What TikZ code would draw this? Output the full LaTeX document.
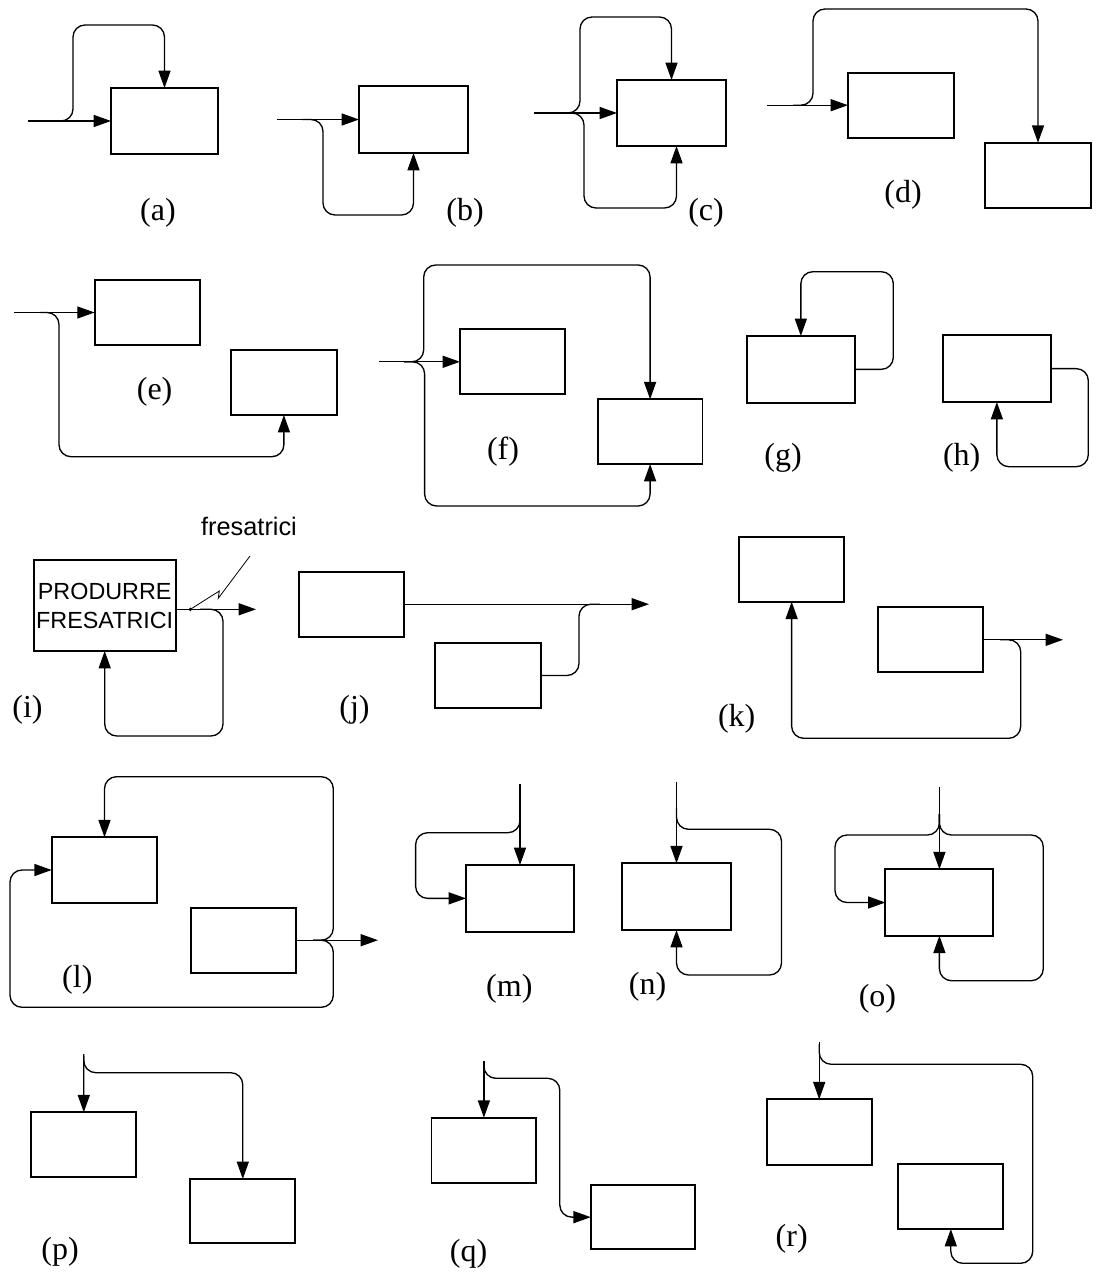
\documentclass[tikz,border=0pt]{standalone}
\usepackage{fontspec}
\setmainfont{Liberation Serif}
\newfontfamily\sansf{Liberation Sans}
\usetikzlibrary{arrows.meta,calc}
\newcommand{\mybox}[5]{\node[bx, anchor=north west, minimum width={(#4-#2)*0.75pt}, minimum height={(#5-#3)*0.75pt}] (#1) at (#2,#3) {};}
\tikzset{
  bx/.style={draw, line width=1.4pt, inner sep=0pt, outer sep=0pt},
  conn/.style={line width=1pt},
  arr/.style={conn, -{Triangle[length=13pt,width=9pt]}},
  rc/.style={rounded corners=9pt},
  lbl/.style={font=\fontsize{24pt}{28pt}\selectfont, inner sep=0pt}
}
\begin{document}
\begin{tikzpicture}[x=0.75pt,y=-0.75pt]
\useasboundingbox (0,0) rectangle (1096,1276);
\fill[white] (0,0) rectangle (1096,1276);

% (a)
\mybox{A}{111}{88}{218}{154}
\coordinate (Ain) at (28,121);
\draw[arr] (Ain) -- (A.west);
\draw[arr,rc] (52,121) -| (73,25) -| (A.north);
\node[lbl] (la) at (158,213) {(a)};

% (b)
\mybox{B}{359}{86}{468}{153}
\coordinate (Bin) at (277,119.5);
\draw[arr] (Bin) -- (B.west);
\draw[arr,rc] (302,119.5) -| (323,215) -| (B.south);
\node[lbl] (lb) at (465,213) {(b)};

% (c)
\mybox{C}{617}{80}{726}{146}
\coordinate (Cin) at (534,113);
\draw[arr] (Cin) -- (C.west);
\draw[arr,rc] (560,113) -| (580,17) -| (C.north);
\draw[arr,rc] (560,113) -| (584,208) -| ($(C.south)+(5,0)$);
\node[lbl] (lc) at (706,213) {(c)};

% (d)
\mybox{D1}{848}{72.7}{954}{137.7}
\mybox{D2}{985}{142.7}{1091}{208.3}
\coordinate (Din) at (767,105.2);
\draw[arr] (Din) -- (D1.west);
\draw[arr,rc] (793,105.2) -| (813,9) -| (D2.north);
\node[lbl] (ld) at (903,195) {(d)};

% (e)
\mybox{E1}{94.6}{280}{199.8}{345}
\mybox{E2}{230.8}{350}{337}{415}
\coordinate (Ein) at (14,312.5);
\draw[arr] (Ein) -- (E1.west);
\draw[arr,rc] (40,312.5) -| (59,456.7) -| (E2.south);
\node[lbl] (le) at (154.6,391.7) {(e)};

% (f)
\mybox{F1}{460}{329.3}{565.4}{394.3}
\mybox{F2}{597.7}{399.3}{702.5}{464}
\coordinate (Fin) at (379,361.8);
\draw[arr] (Fin) -- (F1.west);
\draw[arr,rc] (404,361.8) -| (423.7,265) -| (F2.north);
\draw[arr,rc] (404,361.8) -| (424.6,506) -| (F2.south);
\node[lbl] (lf) at (503,451.7) {(f)};

% (g)
\mybox{G}{746.7}{336}{855}{402.7}
\draw[arr,rc] (G.east) -| (893.3,271.7) -| (G.north);
\node[lbl] (lg) at (783,458) {(g)};

% (h)
\mybox{H}{942.7}{335.3}{1051}{402}
\draw[arr,rc] (H.east) -| (1088.3,466.7) -| (H.south);
\node[lbl] (lh) at (961.7,458) {(h)};

% (i)
\node[bx, anchor=north west, minimum width={141.8*0.75pt}, minimum height={91*0.75pt}, align=center,
      font=\sansf\fontsize{17.5pt}{21.75pt}\selectfont] (I) at (33.8,560) {PRODURRE\\FRESATRICI};
\coordinate (Idot) at (190.4,609.3);
\coordinate (Iend) at (256,609.3);
\draw[arr] (I.east |- Idot) -- (Iend);
\fill (Idot) circle (1.4pt);
\draw[arr,rc] (200,609.3) -| (223,736) -| (I.south);
\node[font=\sansf\fontsize{19pt}{22pt}\selectfont, inner sep=0pt] (fres) at (249,526) {fresatrici};
\draw[line width=0.6pt] (Idot) -- (219.3,591) -- (218.3,598.3) -- (250,556);
\node[lbl] (li) at (27.5,710) {(i)};

% (j)
\mybox{J1}{299}{571.7}{404}{636.7}
\mybox{J2}{435}{642.7}{540.7}{708.3}
\coordinate (Jend) at (649,604.2);
\draw[arr] (J1.east) -- (Jend);
\draw[conn,rc] (J2.east) -| (579,604.2) -- (600,604.2);
\node[lbl] (lj) at (354.5,710) {(j)};

% (k)
\mybox{K1}{739.3}{536.7}{844}{601.7}
\mybox{K2}{878.3}{607.3}{983.3}{672.3}
\coordinate (Kend) at (1063,639.8);
\draw[arr] (K2.east) -- (Kend);
\draw[arr,rc] (1000,639.8) -| (1020.7,738.3) -| (K1.south);
\node[lbl] (lk) at (736.7,718.3) {(k)};

% (l)
\mybox{L1}{51.7}{837.3}{157.3}{902.7}
\mybox{L2}{191}{907.7}{296}{972.7}
\coordinate (Lend) at (378,940.2);
\draw[arr] (L2.east) -- (Lend);
\draw[arr,rc] (313,940.2) -| (333.3,776.7) -| (L1.north);
\draw[arr,rc] (313,940.2) -| (333.3,1007.3) -| (10,870) -- (L1.west);
\node[lbl] (ll) at (77.3,980) {(l)};

% (m)
\mybox{M}{466}{865}{574}{931.7}
\coordinate (Min) at (520,784);
\draw[arr] (Min) -- (M.north);
\draw[arr,rc] (520,812) |- (415.6,832.7) |- (M.west);
\node[lbl] (lm) at (509.3,988.3) {(m)};

% (n)
\mybox{N}{622}{863.3}{731}{930}
\coordinate (Nin) at (676.5,781.7);
\draw[arr] (Nin) -- (N.north);
\draw[arr,rc] (676.5,808) |- (781.5,829.3) |- (676.5,975) -- (N.south);
\node[lbl] (ln) at (647.6,986.7) {(n)};

% (o)
\mybox{O}{885.4}{869.3}{993.4}{935.7}
\coordinate (Oin) at (939.4,786.7);
\draw[arr] (Oin) -- (O.north);
\draw[arr,rc] (939.4,814) |- (835,835) |- (O.west);
\draw[arr,rc] (939.4,814) |- (1043.3,835) |- (939.4,980.7) -- (O.south);
\node[lbl] (lo) at (877.4,998.3) {(o)};

% (p)
\mybox{P1}{31.4}{1112.3}{136.2}{1176.7}
\mybox{P2}{190.2}{1179}{295.4}{1243.3}
\coordinate (Pin) at (83.8,1054);
\draw[arr] (Pin) -- (P1.north);
\draw[arr,rc] (83.8,1056) |- (160,1072.7) -| (P2.north);
\node[lbl] (lp) at (60,1252) {(p)};

% (q)
\mybox{Q1}{431.5}{1117.7}{536.3}{1183.3}
\mybox{Q2}{590.8}{1185}{694.6}{1249.3}
\coordinate (Qin) at (483.9,1060.7);
\draw[arr] (Qin) -- (Q1.north);
\draw[arr,rc] (483.9,1062) |- (559.8,1078.3) |- (Q2.west);
\node[lbl] (lq) at (468.5,1254) {(q)};

% (r)
\mybox{R1}{766.7}{1099.3}{871.7}{1165}
\mybox{R2}{898.3}{1164}{1003.3}{1229}
\coordinate (Rin) at (819.2,1041.7);
\draw[arr] (Rin) -- (R1.north);
\draw[arr,rc] (819.2,1044) |- (1032.7,1064.3) |- (950.8,1263.3) -- (R2.south);
\node[lbl] (lr) at (791.7,1238.3) {(r)};
\end{tikzpicture}
\end{document}
